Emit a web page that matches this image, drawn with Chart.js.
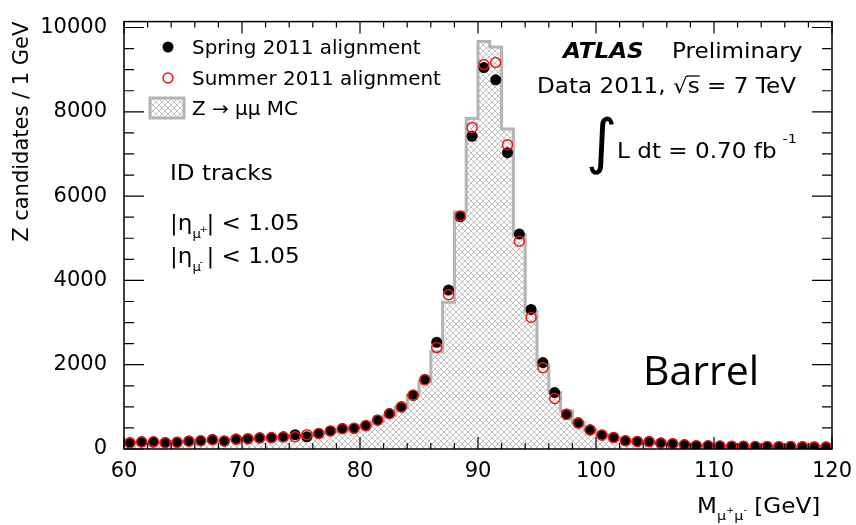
<!DOCTYPE html>
<html>
<head>
<meta charset="utf-8">
<script src="https://cdn.jsdelivr.net/npm/chart.js@4.4.0/dist/chart.umd.min.js"></script>
<style>
  body { margin: 0; background: #fff; }
</style>
</head>
<body>
<canvas id="zChart" width="856" height="525"></canvas>
<script>
// bin centres, 1 GeV bins from 60 to 120 GeV
const massBins = [60.5, 61.5, 62.5, 63.5, 64.5, 65.5, 66.5, 67.5, 68.5, 69.5,
  70.5, 71.5, 72.5, 73.5, 74.5, 75.5, 76.5, 77.5, 78.5, 79.5,
  80.5, 81.5, 82.5, 83.5, 84.5, 85.5, 86.5, 87.5, 88.5, 89.5,
  90.5, 91.5, 92.5, 93.5, 94.5, 95.5, 96.5, 97.5, 98.5, 99.5,
  100.5, 101.5, 102.5, 103.5, 104.5, 105.5, 106.5, 107.5, 108.5, 109.5,
  110.5, 111.5, 112.5, 113.5, 114.5, 115.5, 116.5, 117.5, 118.5, 119.5];

// Spring 2011 alignment (black dots)
const springData = [150, 170, 165, 150, 160, 190, 195, 225, 185, 235,
  240, 265, 265, 290, 340, 290, 370, 430, 485, 490,
  550, 690, 840, 1000, 1270, 1650, 2530, 3770, 5510, 7420,
  9050, 8760, 7030, 5100, 3310, 2050, 1340, 830, 620, 455,
  335, 275, 195, 180, 175, 140, 125, 100, 80, 75,
  70, 65, 65, 60, 60, 55, 60, 55, 50, 50];

// Summer 2011 alignment (red open circles)
const summerData = [145, 165, 170, 150, 160, 185, 195, 220, 190, 230,
  245, 260, 270, 285, 290, 340, 365, 430, 480, 495,
  555, 685, 835, 995, 1280, 1640, 2410, 3660, 5530, 7630,
  9120, 9170, 7220, 4930, 3120, 1930, 1200, 820, 615, 450,
  330, 270, 195, 180, 172, 142, 122, 98, 80, 75,
  70, 66, 64, 60, 60, 56, 58, 55, 50, 48];

// Z -> mumu MC histogram
const mcHist = [150, 160, 165, 165, 170, 180, 190, 205, 215, 225,
  240, 255, 270, 290, 315, 335, 365, 405, 450, 500,
  560, 660, 800, 990, 1280, 1600, 2310, 3480, 5620, 7840,
  9670, 9540, 7590, 5080, 3250, 2000, 1340, 900, 620, 450,
  340, 270, 215, 180, 155, 135, 120, 105, 95, 85,
  80, 72, 68, 64, 60, 58, 55, 53, 51, 50];

const xTicks = [60, 70, 80, 90, 100, 110, 120];
const yTicks = [0, 2000, 4000, 6000, 8000, 10000];
const xMinorStep = 2;
const yMinorStep = 500;
const binWidth = 1;

// grey cross hatch for the MC
function makeHatch() {
  const p = document.createElement('canvas');
  p.width = 6; p.height = 6;
  const g = p.getContext('2d');
  g.fillStyle = '#fff';
  g.fillRect(0, 0, 6, 6);
  g.strokeStyle = '#b2b2b2';
  g.lineWidth = 0.8;
  g.beginPath();
  g.moveTo(-1, -1); g.lineTo(7, 7);
  g.moveTo(7, -1); g.lineTo(-1, 7);
  g.stroke();
  return document.getElementById('zChart').getContext('2d').createPattern(p, 'repeat');
}
const hatch = makeHatch();

// step outline: left edge of each bin, plus closing right edge
const mcSteps = mcHist.map((v, i) => ({ x: massBins[i] - binWidth / 2, y: v }));
mcSteps.push({ x: massBins[massBins.length - 1] + binWidth / 2, y: mcHist[mcHist.length - 1] });

function txt(ctx, s, x, y, size, opt = {}) {
  const sx = opt.sx || 1.1;
  ctx.save();
  ctx.font = (opt.style || '') + ' ' + size + 'px ' + (opt.family || '"DejaVu Sans"');
  ctx.fillStyle = opt.color || '#000';
  ctx.textAlign = 'left';
  ctx.textBaseline = opt.baseline || 'alphabetic';
  ctx.translate(x, y);
  ctx.scale(sx, 1);
  ctx.fillText(s, 0, 0);
  const w = ctx.measureText(s).width * sx;
  ctx.restore();
  return w;
}

const framePlugin = {
  id: 'frame',
  afterDraw(chart) {
    const { ctx, chartArea: a, scales: { x, y } } = chart;
    ctx.save();
    ctx.strokeStyle = '#000';
    ctx.lineWidth = 1.5;
    ctx.strokeRect(a.left, a.top, a.right - a.left, a.bottom - a.top);

    // inward ticks on all four sides
    ctx.lineWidth = 1.2;
    ctx.beginPath();
    for (let v = xTicks[0]; v <= xTicks[xTicks.length - 1]; v += xMinorStep) {
      const px = x.getPixelForValue(v);
      const len = xTicks.includes(v) ? 12 : 6;
      ctx.moveTo(px, a.bottom); ctx.lineTo(px, a.bottom - len);
      ctx.moveTo(px, a.top); ctx.lineTo(px, a.top + len);
    }
    for (let v = yTicks[0]; v <= yTicks[yTicks.length - 1]; v += yMinorStep) {
      const py = y.getPixelForValue(v);
      const len = yTicks.includes(v) ? 20 : 10;
      ctx.moveTo(a.left, py); ctx.lineTo(a.left + len, py);
      ctx.moveTo(a.right, py); ctx.lineTo(a.right - len, py);
    }
    ctx.stroke();

    // legend
    ctx.fillStyle = '#000';
    ctx.beginPath(); ctx.arc(168, 47, 5.5, 0, Math.PI * 2); ctx.fill();
    ctx.strokeStyle = 'rgb(240,20,20)'; ctx.lineWidth = 1.5;
    ctx.beginPath(); ctx.arc(168, 78, 5, 0, Math.PI * 2); ctx.stroke();
    ctx.fillStyle = hatch; ctx.fillRect(150, 98, 34, 20);
    ctx.strokeStyle = '#b4b4b4'; ctx.lineWidth = 3;
    ctx.strokeRect(150, 98, 34, 20);
    txt(ctx, 'Spring 2011 alignment', 192, 54, 19, { sx: 1.05 });
    txt(ctx, 'Summer 2011 alignment', 192, 85, 19, { sx: 1.05 });
    txt(ctx, 'Z \u2192 \u03bc\u03bc MC', 192, 115, 19, { sx: 1.05 });

    // left labels
    txt(ctx, 'ID tracks', 170, 180, 21);
    let cx = 170 + txt(ctx, '|\u03b7', 170, 230, 21);
    txt(ctx, '\u03bc', cx, 238, 12);
    txt(ctx, '+', cx + 7, 232, 9);
    txt(ctx, '| < 1.05', cx + 14, 230, 21);
    cx = 170 + txt(ctx, '|\u03b7', 170, 263, 21);
    txt(ctx, '\u03bc', cx, 271, 12);
    txt(ctx, '-', cx + 7, 265, 9);
    txt(ctx, '| < 1.05', cx + 14, 263, 21);

    // right labels
    txt(ctx, 'ATLAS', 563, 58, 21, { style: 'italic bold' });
    txt(ctx, 'Preliminary', 672, 58, 21);
    cx = 537 + txt(ctx, 'Data 2011, ', 537, 93, 21);
    cx += txt(ctx, '\u221a', cx, 93, 21);
    const sw = txt(ctx, 's', cx, 93, 21);
    ctx.strokeStyle = '#000'; ctx.lineWidth = 1.3;
    ctx.beginPath(); ctx.moveTo(cx - 1, 76); ctx.lineTo(cx + sw, 76); ctx.stroke();
    txt(ctx, ' = 7 TeV', cx + sw, 93, 21);
    txt(ctx, '\u222b', 586, 146, 60, { sx: 1, baseline: 'middle' });
    cx = 617 + txt(ctx, 'L dt = 0.70 fb', 617, 158, 21);
    txt(ctx, '-1', cx + 6, 143, 13);

    // x axis title
    cx = 697 + txt(ctx, 'M', 697, 513, 21);
    cx += txt(ctx, '\u03bc', cx, 520, 13);
    cx += txt(ctx, '+', cx, 513, 9);
    cx += txt(ctx, '\u03bc', cx, 520, 13);
    cx += txt(ctx, '-', cx, 513, 9);
    txt(ctx, ' [GeV]', cx, 513, 21);

    // region label
    txt(ctx, 'Barrel', 643, 385, 41, { sx: 1, family: '"Open Sans"' });
    ctx.restore();
  }
};

Chart.defaults.font.family = '"DejaVu Sans"';
Chart.defaults.color = '#000';

const ctx = document.getElementById('zChart').getContext('2d');
new Chart(ctx, {
  type: 'scatter',
  data: {
    datasets: [{
      label: 'Summer 2011 alignment',
      data: massBins.map((m, i) => ({ x: m, y: summerData[i] })),
      pointStyle: 'circle',
      pointRadius: 5,
      pointBackgroundColor: 'rgba(0,0,0,0)',
      pointBorderColor: 'rgb(240,20,20)',
      pointBorderWidth: 1.5,
      order: 1
    }, {
      label: 'Spring 2011 alignment',
      data: massBins.map((m, i) => ({ x: m, y: springData[i] })),
      pointStyle: 'circle',
      pointRadius: 5.5,
      pointBackgroundColor: '#000',
      pointBorderColor: '#000',
      pointBorderWidth: 0,
      order: 2
    }, {
      type: 'line',
      label: 'Z \u2192 \u03bc\u03bc MC',
      data: mcSteps,
      stepped: 'before',
      pointRadius: 0,
      borderColor: '#b4b4b4',
      borderWidth: 3,
      backgroundColor: hatch,
      fill: 'origin',
      order: 3
    }]
  },
  options: {
    responsive: false,
    animation: false,
    layout: { padding: { top: 15, right: 24, left: 0, bottom: 0 } },
    plugins: { legend: { display: false }, tooltip: { enabled: false } },
    scales: {
      x: {
        type: 'linear',
        min: 60,
        max: 120,
        grid: { display: false },
        border: { display: false },
        afterBuildTicks: s => { s.ticks = xTicks.map(v => ({ value: v })); },
        afterFit: s => { s.height = 76; },
        ticks: { font: { size: 21 }, padding: 2, maxRotation: 0, autoSkip: false, callback: v => String(v) }
      },
      y: {
        min: 0,
        max: 10140,
        grid: { display: false },
        border: { display: false },
        afterBuildTicks: s => { s.ticks = yTicks.map(v => ({ value: v })); },
        afterFit: s => { s.width = 124; },
        ticks: { font: { size: 21 }, padding: 9, callback: v => String(v) },
        title: {
          display: true,
          text: 'Z candidates / 1 GeV',
          align: 'end',
          font: { size: 21 },
          padding: { top: 10, bottom: 0 }
        }
      }
    }
  },
  plugins: [framePlugin]
});
</script>
</body>
</html>
